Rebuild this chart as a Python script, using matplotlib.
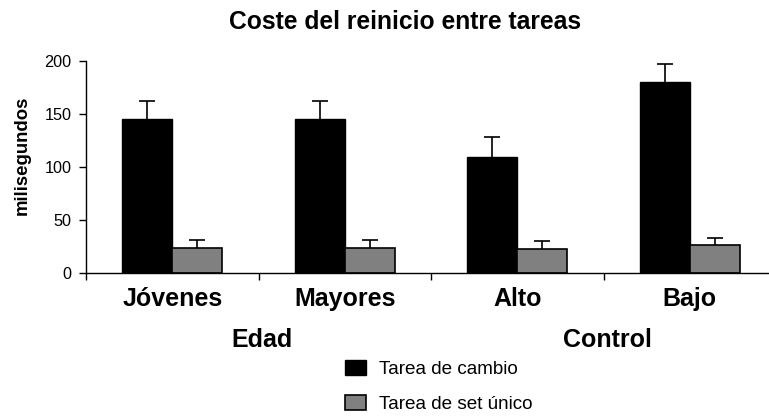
import numpy as np
import matplotlib
matplotlib.use("Agg")
import matplotlib.pyplot as plt
from matplotlib.patches import Patch
from matplotlib.transforms import blended_transform_factory

plt.rcParams["font.family"] = ["Liberation Sans", "DejaVu Sans"]

# Datos (ms)
grupos = ["Jóvenes", "Mayores", "Alto", "Bajo"]
factores = ["Edad", "Control"]
cambio = [145, 145, 109, 180]
cambio_err = [17, 17, 19, 17]
unico = [24, 24, 23, 26]
unico_err = [7, 7, 7, 7]
series = ["Tarea de cambio", "Tarea de set único"]

W, H = 769, 418
fig = plt.figure(figsize=(W / 100, H / 100), dpi=100)
ax = fig.add_axes([86 / W, 1 - 273 / H, 690 / W, 212 / H])

x = np.arange(len(grupos)) + 0.5
bw = 0.29
ax.bar(x - bw / 2, cambio, bw, color="black", edgecolor="black", linewidth=1)
ax.bar(x + bw / 2, unico, bw, color="#808080", edgecolor="black", linewidth=1.2)

# barras de error solo hacia arriba (se oculta la marca inferior)
for xs, vals, errs in [(x - bw / 2, cambio, cambio_err), (x + bw / 2, unico, unico_err)]:
    _, caps, _ = ax.errorbar(xs, vals, yerr=[np.zeros(4), errs], fmt="none",
                             ecolor="black", elinewidth=1.2, capsize=5.5, capthick=1.2)
    caps[0].set_visible(False)

ax.set_xlim(0, 4)
ax.set_ylim(0, 200)
ax.set_yticks([0, 50, 100, 150, 200])
ax.set_xticks([0, 1, 2, 3, 4])
ax.set_xticklabels([])
ax.tick_params(axis="both", direction="out", length=5, width=1, color="black")
ax.tick_params(axis="y", labelsize=11.7, pad=5.5)
for s in ["top", "right"]:
    ax.spines[s].set_visible(False)
for s in ["left", "bottom"]:
    ax.spines[s].set_linewidth(1)

tr = blended_transform_factory(ax.transData, ax.transAxes)
for xi, g in zip(x, grupos):
    ax.text(xi, (273 - 306) / 212, g, transform=tr, ha="center", va="baseline",
            fontsize=18, fontweight="bold")
for xi, f in zip([1.0, 3.0], factores):
    ax.text(xi + 0.02, (273 - 347) / 212, f, transform=tr, ha="center", va="baseline",
            fontsize=18, fontweight="bold")

fig.text(405 / W, 1 - 29 / H, "Coste del reinicio entre tareas", ha="center",
         va="baseline", fontsize=17.7, fontweight="bold")
fig.text(22 / W, 1 - 155 / H, "milisegundos", rotation=90, ha="center",
         va="center", fontsize=13.4, fontweight="bold")

handles = [Patch(facecolor="black", edgecolor="black", linewidth=1),
           Patch(facecolor="#808080", edgecolor="black", linewidth=1.2)]
fig.legend(handles, series, loc="upper left", bbox_to_anchor=(345 / W, 1 - 360 / H),
           frameon=False, fontsize=13.6, borderpad=0, borderaxespad=0,
           handlelength=1.1, handleheight=0.85, handletextpad=0.7,
           labelspacing=0.88)

fig.savefig("out.png", dpi=100)
